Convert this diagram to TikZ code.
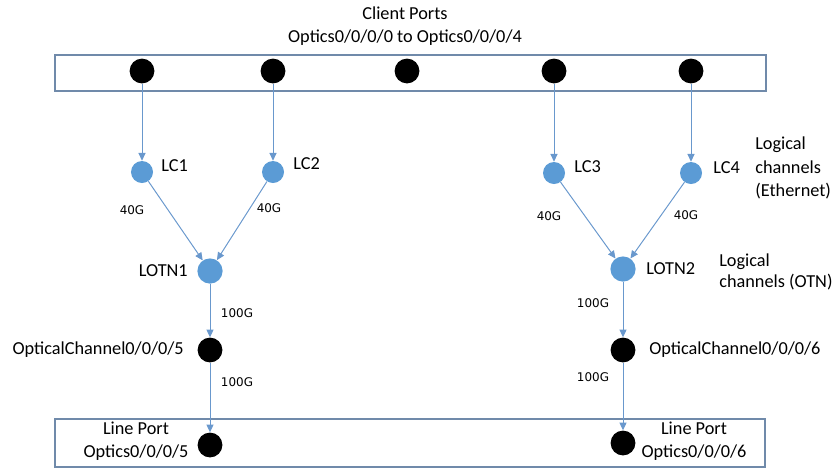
\documentclass[tikz,border=0pt]{standalone}
\usepackage{fontspec}
\setmainfont{Carlito}
\newfontfamily\ratefont{DejaVu Sans}
\usetikzlibrary{arrows.meta}
\definecolor{chanblue}{RGB}{91,155,213}
\definecolor{linkblue}{RGB}{105,152,205}
\definecolor{boxedge}{RGB}{112,138,170}
\tikzset{
port/.style={circle, fill=black, inner sep=0pt, minimum size=0.62cm},
chan/.style={circle, fill=chanblue, inner sep=0pt, minimum size=0.55cm},
otn/.style={circle, fill=chanblue, inner sep=0pt, minimum size=0.63cm},
link/.style={draw=linkblue, line width=0.7pt, -{Triangle[length=5.5pt,width=5pt]}},
rate/.style={font=\ratefont\fontsize{8.5}{10}\selectfont, inner sep=0pt},
txt/.style={font=\fontsize{13}{16.5}\selectfont, inner sep=0pt},
portbox/.style={draw=boxedge, line width=0.8pt}
}
\begin{document}
\begin{tikzpicture}[x=0.025cm, y=-0.025cm]
\useasboundingbox (0,0) rectangle (836,468);
\draw[portbox] (55,55) rectangle (766,91);
\draw[portbox] (55,419) rectangle (765,467);
\node[txt, align=center] (title) at (405,26) {Client Ports\\Optics0/0/0/0 to Optics0/0/0/4};

\foreach \i/\x in {0/142,1/273,2/407,3/554,4/691}
  \node[port] (cp\i) at (\x,71) {};

\node[chan] (lc1) at (142,172) {};
\node[chan] (lc2) at (273,172) {};
\node[chan] (lc3) at (554,173) {};
\node[chan] (lc4) at (691,173) {};
\node[otn] (lotn1) at (210,271) {};
\node[otn] (lotn2) at (623,269) {};
\node[port] (oc5) at (210,350) {};
\node[port] (oc6) at (623,350) {};
\node[port] (lp5) at (210,445) {};
\node[port] (lp6) at (623,443) {};

\foreach \i/\j in {0/1,1/2,3/3,4/4}
  \draw[link] (cp\i) -- (lc\j);
\draw[link] (lc1) -- (lotn1);
\draw[link] (lc2) -- (lotn1);
\draw[link] (lc3) -- (lotn2);
\draw[link] (lc4) -- (lotn2);
\draw[link] (lotn1) -- (oc5);
\draw[link] (oc5) -- (lp5);
\draw[link] (lotn2) -- (oc6);
\draw[link] (oc6) -- (lp6);

\node[txt, anchor=west] (lc1lab) at (161,166) {LC1};
\node[txt, anchor=west] (lc2lab) at (293,164) {LC2};
\node[txt, anchor=west] (lc3lab) at (574,167) {LC3};
\node[txt, anchor=west] (lc4lab) at (713,168) {LC4};
\node[txt, anchor=west, align=left] (ethlab) at (755,168) {Logical\\channels\\(Ethernet)};
\node[txt, anchor=east] (lotn1lab) at (188,271) {LOTN1};
\node[txt, anchor=west] (lotn2lab) at (646,269) {LOTN2};
\node[txt, anchor=west, align=left] (otnlab) at (719,272) {Logical\\[-2pt]channels (OTN)};
\node[txt, anchor=east] (oc5lab) at (184,350) {OpticalChannel0/0/0/5};
\node[txt, anchor=west] (oc6lab) at (649,350) {OpticalChannel0/0/0/6};
\node[txt, align=center] (lp5lab) at (136,441) {Line Port\\Optics0/0/0/5};
\node[txt, align=center] (lp6lab) at (694,441) {Line Port\\Optics0/0/0/6};

\node[rate] (r1) at (132,210) {40G};
\node[rate] (r2) at (269,208) {40G};
\node[rate] (r3) at (549,216) {40G};
\node[rate] (r4) at (686,215) {40G};
\node[rate] (r5) at (237,313) {100G};
\node[rate] (r6) at (237,382) {100G};
\node[rate] (r7) at (593,303) {100G};
\node[rate] (r8) at (593,377) {100G};
\end{tikzpicture}
\end{document}
